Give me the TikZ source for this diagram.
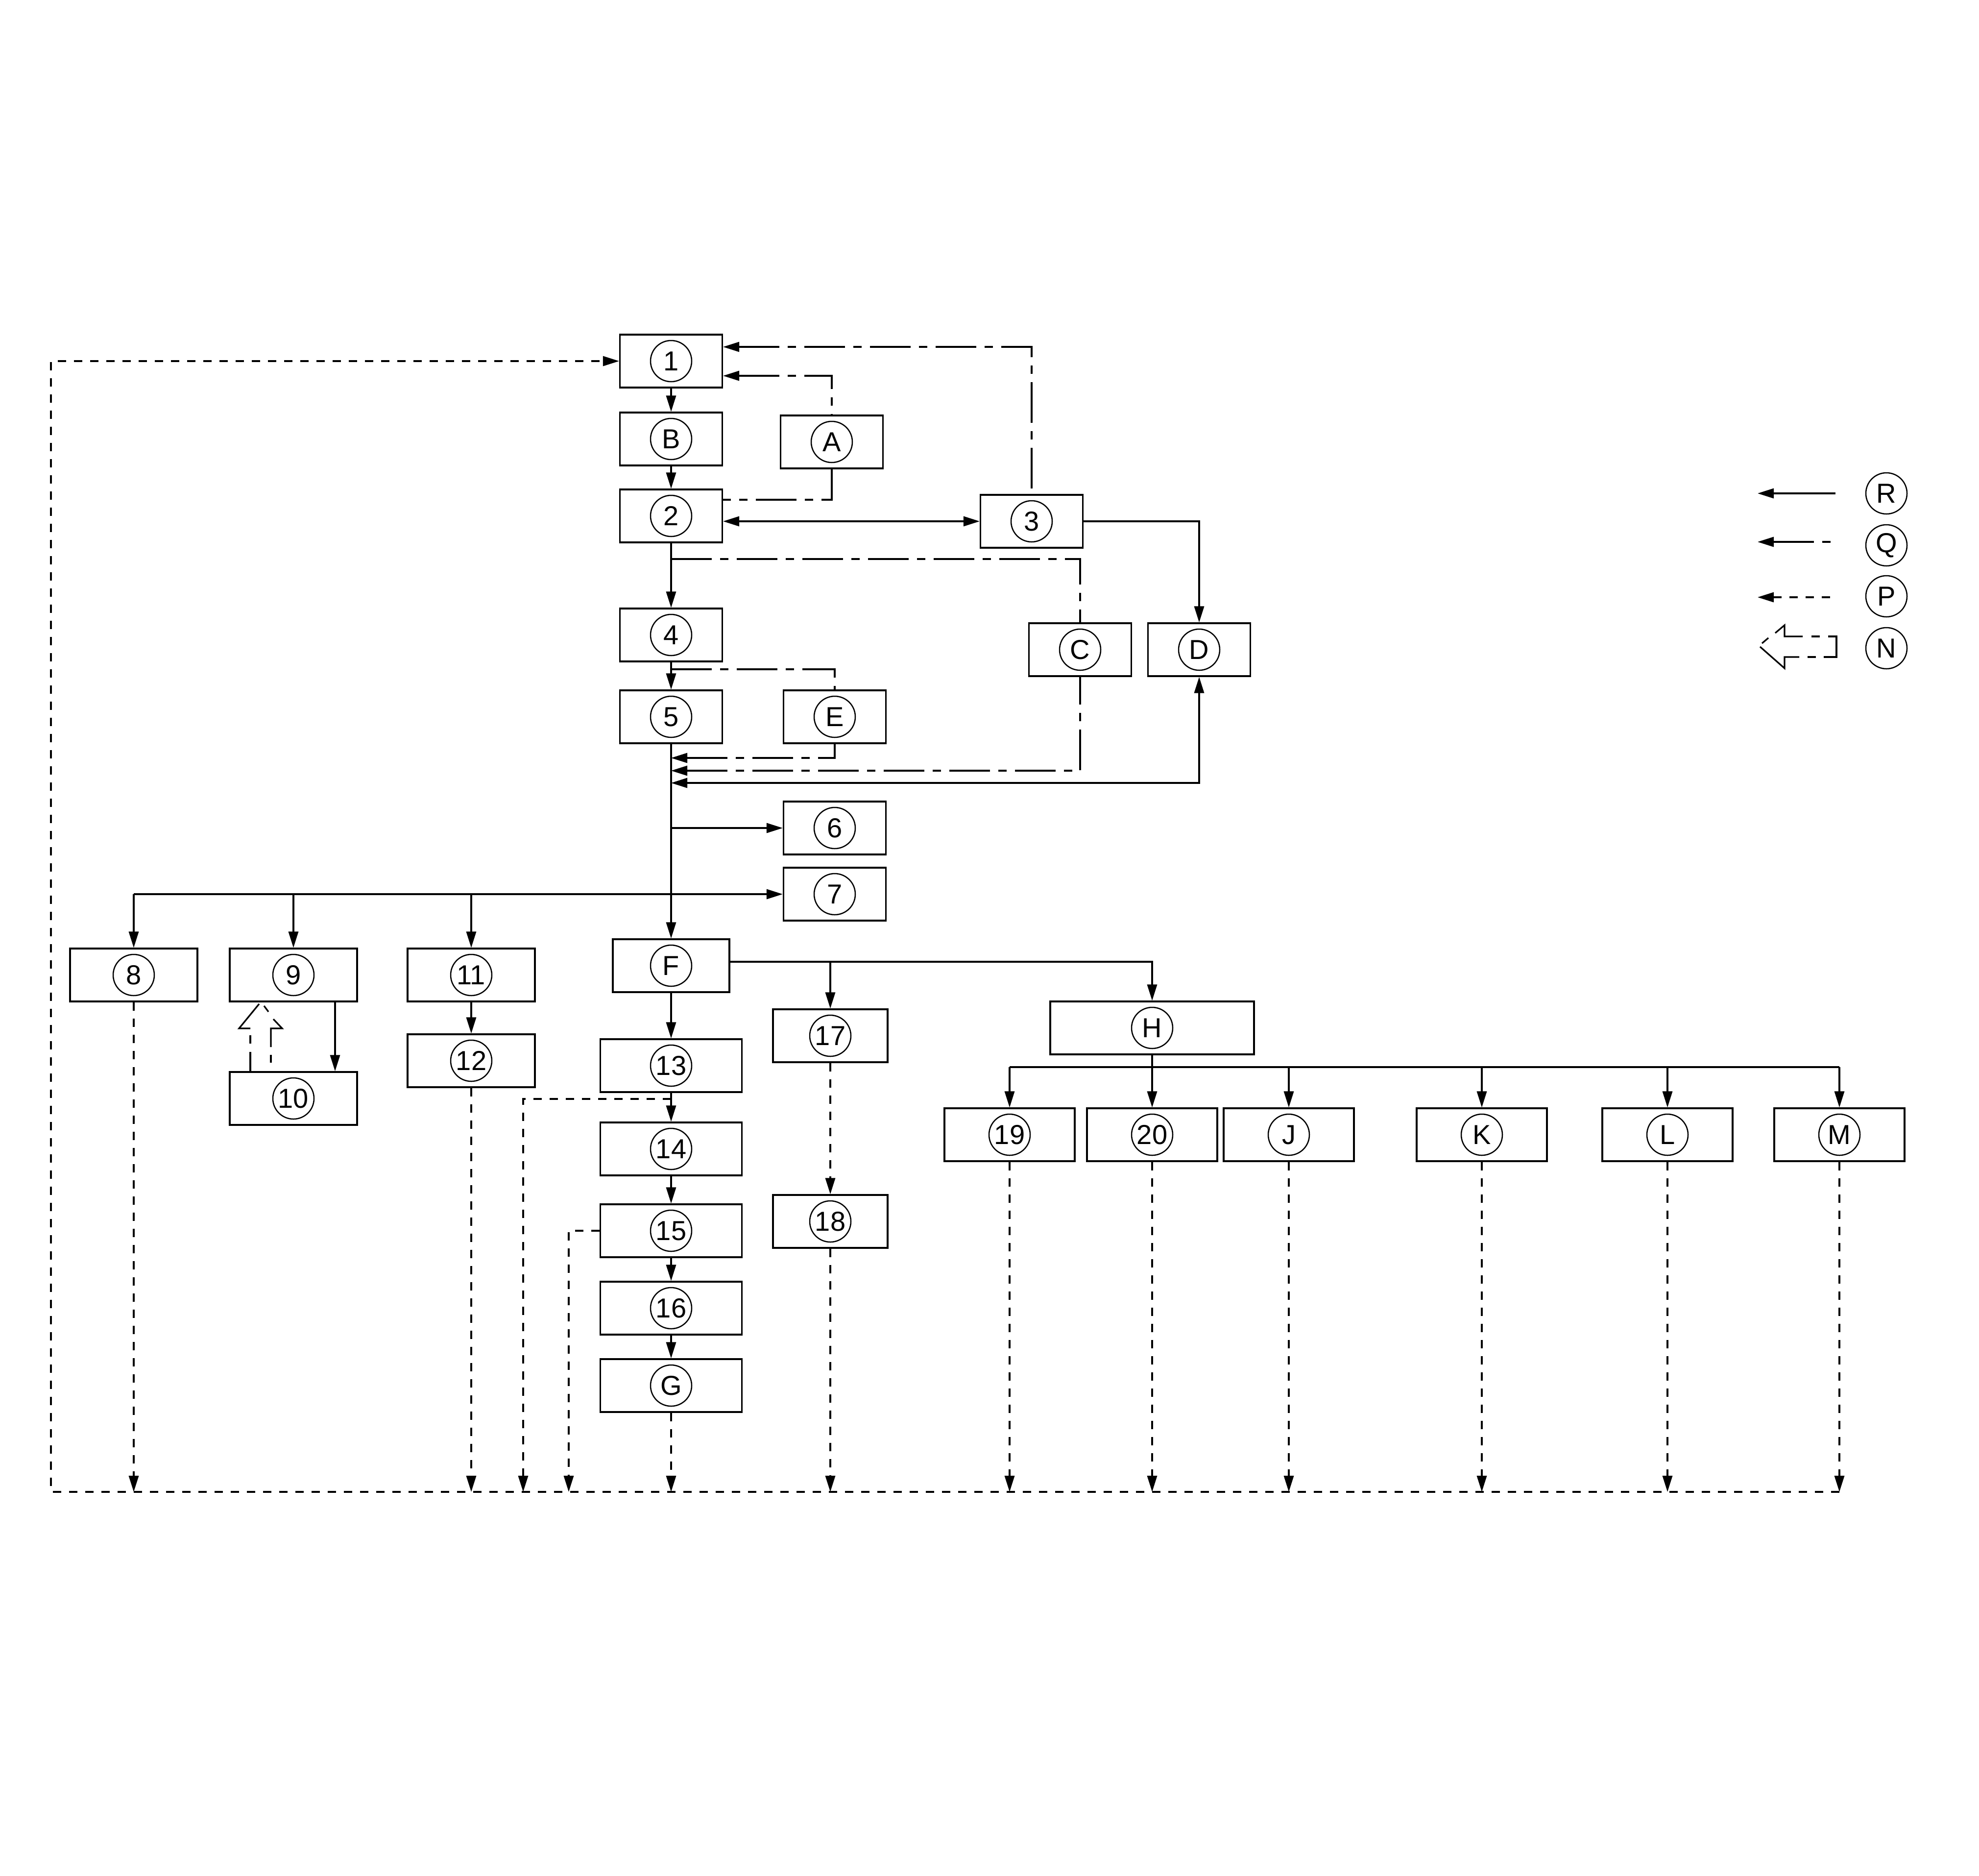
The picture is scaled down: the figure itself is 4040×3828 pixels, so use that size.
\documentclass[tikz,border=0pt]{standalone}
\usepackage{fontspec}
\setmainfont{Liberation Sans}
\usetikzlibrary{arrows.meta}
\begin{document}
\begin{tikzpicture}[x=0.2pt,y=-0.2pt,
  cline/.style={line width=0.64pt},
  box/.style={draw,cline,minimum height=21.6pt,inner sep=0pt,
    font=\fontsize{11.2}{12}\selectfont,
    path picture={\draw[line width=0.5pt] (path picture bounding box.center) circle[radius=8.4pt];}},
  bw/.style={minimum width=#1},
  lcirc/.style={circle,draw,line width=0.5pt,minimum size=16.8pt,inner sep=0pt,
    font=\fontsize{11.2}{12}\selectfont},
  arr/.style={cline,-{Triangle[length=6.6pt,width=4pt]}},
  rarr/.style={cline,{Triangle[length=6.6pt,width=4pt]}-},
  barr/.style={cline,{Triangle[length=6.6pt,width=4pt]}-{Triangle[length=6.6pt,width=4pt]}},
  pline/.style={cline,dash pattern=on 3.4pt off 3.2pt},
  qline/.style={cline,dash pattern=on 16.6pt off 3.4pt on 3.4pt off 3.4pt},
  sline/.style={cline}
]
\useasboundingbox (0,0) rectangle (4040,3828);

% boxes
\node[box,bw=41.8pt] (n1) at (1370,737) {1};
\node[box,bw=41.8pt] (nB) at (1370,896) {B};
\node[box,bw=41.8pt] (nA) at (1698,902) {A};
\node[box,bw=41.8pt] (n2) at (1370,1053) {2};
\node[box,bw=41.8pt] (n3) at (2106,1064) {3};
\node[box,bw=41.8pt] (n4) at (1370,1296) {4};
\node[box,bw=41.8pt] (nC) at (2205,1326) {C};
\node[box,bw=41.8pt] (nD) at (2448,1326) {D};
\node[box,bw=41.8pt] (n5) at (1370,1463) {5};
\node[box,bw=41.8pt] (nE) at (1704,1463) {E};
\node[box,bw=41.8pt] (n6) at (1704,1690) {6};
\node[box,bw=41.8pt] (n7) at (1704,1825) {7};
\node[box,bw=52pt] (n8) at (273,1990) {8};
\node[box,bw=52pt] (n9) at (599,1990) {9};
\node[box,bw=52pt] (n10) at (599,2242) {10};
\node[box,bw=52pt] (n11) at (962,1990) {11};
\node[box,bw=52pt] (n12) at (962,2165) {12};
\node[box,bw=47.6pt] (nF) at (1370,1971) {F};
\node[box,bw=57.8pt] (n13) at (1370,2175) {13};
\node[box,bw=57.8pt] (n14) at (1370,2345) {14};
\node[box,bw=57.8pt] (n15) at (1370,2512) {15};
\node[box,bw=57.8pt] (n16) at (1370,2670) {16};
\node[box,bw=57.8pt] (nG) at (1370,2828) {G};
\node[box,bw=46.8pt] (n17) at (1695,2114) {17};
\node[box,bw=46.8pt] (n18) at (1695,2493) {18};
\node[box,bw=83.2pt] (nH) at (2352,2098) {H};
\node[box,bw=53.2pt] (n19) at (2061,2316) {19};
\node[box,bw=53.2pt] (n20) at (2352,2316) {20};
\node[box,bw=53.2pt] (nJ) at (2631,2316) {J};
\node[box,bw=53.2pt] (nK) at (3025,2316) {K};
\node[box,bw=53.2pt] (nL) at (3404,2316) {L};
\node[box,bw=53.2pt] (nM) at (3755,2316) {M};

% helper coordinates
\coordinate (m2C) at (1370,1141);
\coordinate (m4E) at (1370,1366);
\coordinate (mE) at (1370,1547);
\coordinate (mC) at (1370,1573);
\coordinate (mD) at (1370,1598);
\coordinate (m6) at (1370,1690);
\coordinate (hr) at (2352,2178);
\coordinate (s13) at (1370,2243);
\coordinate (b13) at (1068,3045);
\coordinate (b15) at (1161,3045);
\coordinate (bL) at (104,3045);
\coordinate (bR) at (3755,3045);
\coordinate (fr) at ([yshift=1.6pt]nF.east);

% solid connectors
\draw[arr] (n1.south) -- (nB.north);
\draw[arr] (nB.south) -- (n2.north);
\draw[arr] (n2.south) -- (n4.north);
\draw[arr] (n4.south) -- (n5.north);
\draw[arr] (n5.south) -- (nF.north);
\draw[barr] (n2.east |- n3.west) -- (n3.west);
\draw[arr] (n3.east) -| (nD.north);
\draw[barr] (mD) -| (nD.south);
\draw[arr] (m6) -- (n6.west);
\draw[arr] (n8.north |- n7.west) -- (n7.west);
\draw[arr] (n8.north |- n7.west) -- (n8.north);
\draw[arr] (n9.north |- n7.west) -- (n9.north);
\draw[arr] (n11.north |- n7.west) -- (n11.north);
\draw[arr] ([xshift=17pt]n9.south) -- ([xshift=17pt]n10.north);
\draw[arr] (n11.south) -- (n12.north);
\draw[arr] (nF.south) -- (n13.north);
\draw[arr] (n13.south) -- (n14.north);
\draw[arr] (n14.south) -- (n15.north);
\draw[arr] (n15.south) -- (n16.north);
\draw[arr] (n16.south) -- (nG.north);
\draw[arr] (fr) -| (nH.north);
\draw[arr] (n17.north |- fr) -- (n17.north);
\draw[arr] (nH.south) -- (n20.north);
\draw[sline] (n19.north |- hr) -- (nM.north |- hr);
\draw[arr] (n19.north |- hr) -- (n19.north);
\draw[arr] (nJ.north |- hr) -- (nJ.north);
\draw[arr] (nK.north |- hr) -- (nK.north);
\draw[arr] (nL.north |- hr) -- (nL.north);
\draw[arr] (nM.north |- hr) -- (nM.north);

% dash-dot connectors
\draw[qline,rarr] ([yshift=5.8pt]n1.east) -| (n3.north);
\draw[qline,rarr] ([yshift=-6pt]n1.east) -| (nA.north);
\draw[qline] (nA.south) |- ([yshift=6.6pt]n2.east);
\draw[qline] (m2C) -| (nC.north);
\draw[qline] (m4E) -| (nE.north);
\draw[qline,rarr] (mE) -| (nE.south);
\draw[qline,rarr] (mC) -| (nC.south);

% dashed connectors
\draw[pline,arr] (n17.south) -- (n18.north);
\draw[pline,arr] (n8.south) -- (n8.south |- bL);
\draw[pline,arr] (n12.south) -- (n12.south |- bL);
\draw[pline,arr] (s13) -| (b13);
\draw[pline,arr] (n15.west) -| (b15);
\draw[pline,arr] (nG.south) -- (nG.south |- bL);
\draw[pline,arr] (n18.south) -- (n18.south |- bL);
\draw[pline,arr] (n19.south) -- (n19.south |- bL);
\draw[pline,arr] (n20.south) -- (n20.south |- bL);
\draw[pline,arr] (nJ.south) -- (nJ.south |- bL);
\draw[pline,arr] (nK.south) -- (nK.south |- bL);
\draw[pline,arr] (nL.south) -- (nL.south |- bL);
\draw[pline,arr] (nM.south) -- (nM.south |- bL);
\draw[pline,arr] (bR) -- (bL) |- (n1.west);

% hollow dashed arrow 10 -> 9
\draw[sline] (511,2099) -- (488,2099) -- (529,2049);
\draw[sline] (539,2053) -- (548,2065);
\draw[sline] (558,2080) -- (576,2099) -- (553,2099) -- (553,2137);
\draw[sline] (553,2153) -- (553,2169);
\draw[sline] (511,2113) -- (511,2130);
\draw[sline] (511,2147) -- (511,2187);

% legend
\node[lcirc] (lR) at (3851,1007) {R};
\node[lcirc] (lQ) at (3851,1113) {Q};
\node[lcirc] (lP) at (3851,1217) {P};
\node[lcirc] (lN) at (3851,1323) {N};
\coordinate (lRs) at (3747,1007); \coordinate (lRe) at (3588,1007);
\coordinate (lQs) at (3747,1106); \coordinate (lQe) at (3588,1106);
\coordinate (lPs) at (3747,1219); \coordinate (lPe) at (3588,1219);
\draw[arr] (lRs) -- (lRe);
\draw[qline,rarr] (lQe) -- (lQs);
\draw[pline,rarr] (lPe) -- (lPs);
\draw[sline] (3593,1320) -- (3643,1364) -- (3643,1341) -- (3673,1341);
\draw[sline] (3690,1341) -- (3707,1341);
\draw[sline] (3723,1341) -- (3749,1341) -- (3749,1299) -- (3732,1299);
\draw[sline] (3715,1299) -- (3698,1299);
\draw[sline] (3680,1299) -- (3643,1299) -- (3643,1276) -- (3624,1292);
\draw[sline] (3610,1302) -- (3597,1313);
\end{tikzpicture}
\end{document}
